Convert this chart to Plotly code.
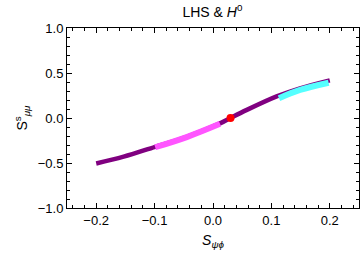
import plotly.graph_objects as go

# Data
purple_x = [-0.200, -0.153, -0.099, -0.045, 0.012, 0.030, 0.058, 0.109, 0.149, 0.200]
purple_y = [-0.505, -0.430, -0.320, -0.210, -0.060, 0.000, 0.090, 0.240, 0.330, 0.418]
pink_x = [-0.099, -0.045, 0.012]
pink_y = [-0.325, -0.212, -0.065]
cyan_x = [0.113, 0.149, 0.198]
cyan_y = [0.220, 0.312, 0.392]
point_x = [0.030]
point_y = [0.000]

x_ticks = [-0.2, -0.1, 0.0, 0.1, 0.2]
y_ticks = [-1.0, -0.5, 0.0, 0.5, 1.0]

fig = go.Figure()
fig.add_trace(go.Scatter(x=purple_x, y=purple_y, mode="lines",
                         line=dict(color="#800080", width=4.5, shape="spline"),
                         showlegend=False))
fig.add_trace(go.Scatter(x=pink_x, y=pink_y, mode="lines",
                         line=dict(color="#FF55FF", width=6, shape="spline"),
                         showlegend=False))
fig.add_trace(go.Scatter(x=cyan_x, y=cyan_y, mode="lines",
                         line=dict(color="#55FFFF", width=6, shape="spline"),
                         showlegend=False))
fig.add_trace(go.Scatter(x=point_x, y=point_y, mode="markers",
                         marker=dict(color="#FF0000", size=8),
                         showlegend=False))

font_family = "Liberation Sans, Arial, sans-serif"
axis_common = dict(
    showgrid=False, zeroline=False, showline=True, linecolor="black", linewidth=1,
    mirror="ticks", ticks="inside", ticklen=5, tickcolor="black", tickwidth=1,
    tickfont=dict(family=font_family, size=13, color="black"),
    automargin=False,
)

fig.update_xaxes(range=[-0.25, 0.25], tickvals=x_ticks,
                 ticktext=["\u22120.2", "\u22120.1", "0.0", "0.1", "0.2"],
                 minor=dict(dtick=0.02, ticks="inside", ticklen=3, tickcolor="black"),
                 title=dict(text="<i>S</i><sub><i>ψϕ</i></sub>",
                            font=dict(family=font_family, size=14, color="black"),
                            standoff=8),
                 **axis_common)
fig.update_yaxes(range=[-1.0, 1.0], tickvals=y_ticks,
                 ticktext=["\u22121.0", "\u22120.5", "0.0", "0.5", "1.0"],
                 minor=dict(dtick=0.1, ticks="inside", ticklen=3, tickcolor="black"),
                 title=dict(text="S<sup>s</sup><sub><i>μμ</i></sub>",
                            font=dict(family=font_family, size=14, color="black"),
                            standoff=6),
                 **axis_common)

fig.update_layout(
    width=360, height=258, autosize=False,
    margin=dict(l=67, r=1, t=28, b=50, autoexpand=False),
    paper_bgcolor="white", plot_bgcolor="white",
    title=dict(text="LHS & <i>H</i><sup>0</sup>", x=0.59, xanchor="center",
               y=0.955, yanchor="middle",
               font=dict(family=font_family, size=14, color="black")),
)

fig.write_html(
    "out.html",
    config={"responsive": False, "displayModeBar": False},
    post_script="document.body.style.margin='0';document.body.style.overflow='hidden';",
)
